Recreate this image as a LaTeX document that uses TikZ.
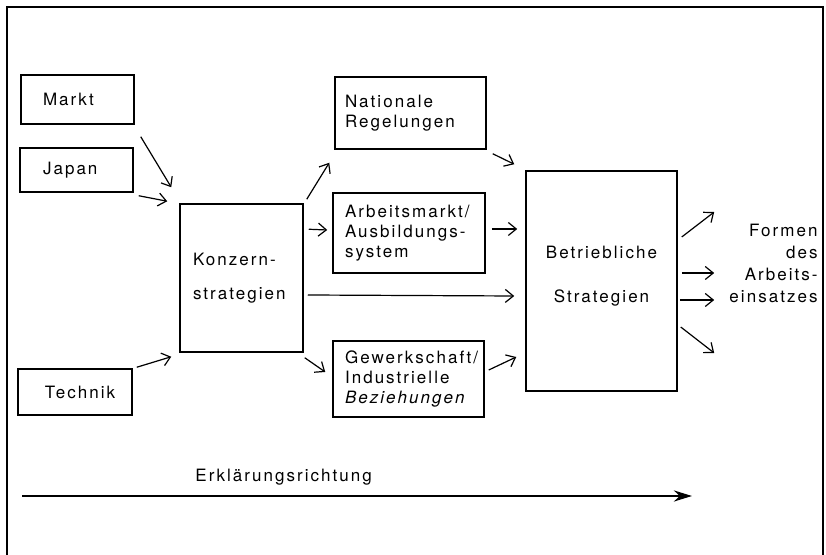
\documentclass[tikz,border=0pt]{standalone}
\usepackage{fontspec}
\setmainfont{TeX Gyre Heros}[LetterSpace=12]
\usepackage{tikz}
\usetikzlibrary{arrows.meta,calc}
\tikzstyle{kasten}=[rectangle, draw, line width=0.75pt, inner xsep=0pt,% text sits left in the box
align=left, font=\fontsize{8.5}{10}\selectfont]
\tikzstyle{pfeil}=[-{Straight Barb[length=4pt,width=6.5pt]}, line width=0.6pt]
\tikzstyle{schrift}=[inner sep=0pt, font=\fontsize{8.5}{10}\selectfont]

\begin{document}
\begin{tikzpicture}[x=0.5pt,y=-0.5pt]
\useasboundingbox (0,0) rectangle (826,555);
\draw[line width=0.7pt] (7,555) -- (7,7) -- (823,7) -- (823,555);
% linke Spalte
\node[kasten, minimum width=56.5pt, minimum height=24.5pt, text width=34.5pt] (markt) at (77.5,99.5) {Markt};
\node[kasten, minimum width=56.5pt, minimum height=22pt, text width=33.5pt] (japan) at (76.5,170) {Japan};
\node[kasten, minimum width=57pt, minimum height=23pt, text width=30pt] (technik) at (75,392) {Technik};
\node[kasten, minimum width=61.5pt, minimum height=74pt, text width=48.5pt] (konzern) at (241.5,278) {Konzern-\\[7pt]strategien};
% mittlere Spalte
\node[kasten, minimum width=75.5pt, minimum height=36pt, text width=65.5pt] (national) at (410.5,113) {Nationale\\Regelungen};
\node[kasten, minimum width=76pt, minimum height=40pt, text width=64pt] (arbeit) at (409,233) {Arbeitsmarkt/\\Ausbildungs-\\system};
\node[kasten, minimum width=75.5pt, minimum height=38pt, text width=63.5pt] (gewerk) at (408.5,379) {Gewerkschaft/\\Industrielle\\\textit{Beziehungen}};
\node[kasten, align=center, minimum width=75.5pt, minimum height=110pt] (betrieb) at (601.5,281) {Betriebliche\\[12pt]Strategien\\[-3pt]\mbox{}};
\node[schrift, align=right, text width=46pt, anchor=east] (formen) at (818,263) {Formen\\[1pt]des\\[1pt]Arbeits-\\[1pt]einsatzes};
%\node[schrift] at (601.5,281) {x};
\draw[pfeil] ($(markt.south east)+(6,12)$) -- ($(konzern.north west)+(-8,-16)$);
\draw[pfeil] ($(japan.south east)+(5,3)$) -- ($(konzern.north west)+(-12,-2)$);
\draw[pfeil] ($(technik.north east)+(4,-1)$) -- ($(konzern.south west)+(-8,4)$);
\draw[pfeil] ($(konzern.north east)+(3,-4)$) -- ($(national.south west)+(-5,13)$);
\draw[pfeil] ($(konzern.north east)+(5,26)$) -- ($(arbeit.west)+(-5,-3)$);
\draw[pfeil] ($(konzern.east)+(4,17)$) -- ($(betrieb.west)+(-11,15)$);
\draw[pfeil] ($(konzern.south east)+(1,5)$) -- ($(gewerk.west)+(-7,-7)$);
\draw[pfeil] ($(national.south east)+(6,4)$) -- ($(betrieb.north west)+(-11,-6)$);
\draw[pfeil] ($(arbeit.east)+(6,-4)$) -- ($(betrieb.west)+(-8,-52)$);
\draw[pfeil] ($(gewerk.east)+(4,-9)$) -- ($(betrieb.west)+(-9,76)$);
\draw[pfeil] ($(betrieb.east)+(4,-44)$) -- ($(formen.west)+(-11,-51)$);
\draw[pfeil] ($(betrieb.east)+(4,-8)$) -- ($(formen.west)+(-11,10)$);
\draw[pfeil] ($(betrieb.east)+(2,19)$) -- ($(formen.west)+(-11,37)$);
\draw[pfeil] ($(betrieb.east)+(3,46)$) -- ($(formen.west)+(-11,90)$);
% Erklaerungsrichtung
\node[schrift, anchor=west] (erkl) at (195,477) {Erklärungsrichtung};
\coordinate (erkl-anfang) at (22,496);
\coordinate (erkl-ende) at (692,496);
\draw[-{Stealth[length=9pt,width=5.5pt]}, line width=1.4pt] (erkl-anfang) -- (erkl-ende);
\end{tikzpicture}
\end{document}
